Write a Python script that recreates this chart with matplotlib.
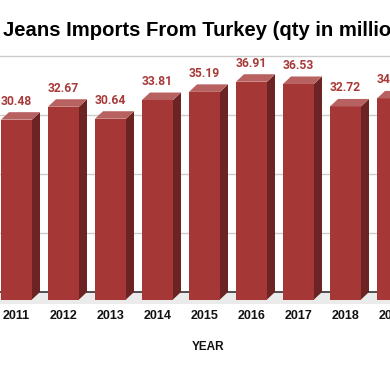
import numpy as np
import matplotlib.pyplot as plt
from matplotlib.patches import Polygon

years = ['2011', '2012', '2013', '2014', '2015', '2016', '2017', '2018', '2019']
qty = [30.48, 32.67, 30.64, 33.81, 35.19, 36.91, 36.53, 32.72, 34.08]
y_ticks = [0, 10, 20, 30, 40]

W, H = 390, 371
fig = plt.figure(figsize=(W / 100, H / 100), dpi=100)
ax = fig.add_axes([0, 0, 1, 1])

# pixel geometry of the reference
px_cat = 47.0          # px per category
px_unit = 5.9          # px per unit of value
back_x0 = 24.5         # px centre of first bar back face
base_px = 292.0        # baseline px from top

ax.set_xlim((0 - back_x0) / px_cat, (W - back_x0) / px_cat)
ax.set_ylim((base_px - H) / px_unit, base_px / px_unit)
ax.axis('off')

dx = 8.0 / px_cat      # depth shift in x (data units)
dy = 7.5 / px_unit     # depth shift in y
bw = 31.0 / px_cat     # bar width

xlo, xhi = ax.get_xlim()

# floor band
floor_h = 12.0 / px_unit
ax.fill_between([xlo, xhi], -floor_h, 0, color='#EBEBEB', lw=0, zorder=0)

for t in y_ticks[1:]:
    ax.plot([xlo, xhi], [t, t], color='#CCCCCC', lw=1.0, zorder=1)
ax.plot([xlo, xhi], [0, 0], color='#333333', lw=1.2, zorder=1)

front_c = '#A63737'
side_c = '#6B2323'
top_c = '#B86161'

for i, v in enumerate(qty):
    # front face (shifted toward viewer)
    fx0 = i - bw / 2 - dx
    fx1 = fx0 + bw
    fy0 = -dy
    fy1 = v - dy
    ax.add_patch(Polygon([(fx0, fy0), (fx1, fy0), (fx1, fy1), (fx0, fy1)],
                         closed=True, fc=front_c, ec='none', zorder=3))
    ax.add_patch(Polygon([(fx1, fy0), (fx1 + dx, fy0 + dy), (fx1 + dx, fy1 + dy), (fx1, fy1)],
                         closed=True, fc=side_c, ec='none', zorder=3))
    ax.add_patch(Polygon([(fx0, fy1), (fx1, fy1), (fx1 + dx, fy1 + dy), (fx0 + dx, fy1 + dy)],
                         closed=True, fc=top_c, ec='none', zorder=3))
    ax.text((fx0 + fx1) / 2, v + 11.0 / px_unit, f'{v:.2f}', ha='center', va='center',
            fontsize=8.7, fontweight='bold', color='#A83A3A', family=['Roboto', 'DejaVu Sans'],
            zorder=4)
    ax.text((fx0 + fx1) / 2, (base_px - 316) / px_unit, years[i], ha='center', va='center',
            fontsize=9, fontweight='bold', color='#111111', family=['Liberation Sans', 'DejaVu Sans'])

ax.text((208 - back_x0) / px_cat, (base_px - 347) / px_unit, 'YEAR', ha='center', va='center',
        fontsize=8.5, fontweight='bold', color='#111111', family=['Liberation Sans', 'DejaVu Sans'])

fig.text(3 / W, 1 - 30 / H, 'Jeans Imports From Turkey (qty in millions)', ha='left', va='center',
         fontsize=14.6, fontweight='bold', color='#000000', family=['Liberation Sans', 'DejaVu Sans'])

fig.savefig('out.png', dpi=100)
